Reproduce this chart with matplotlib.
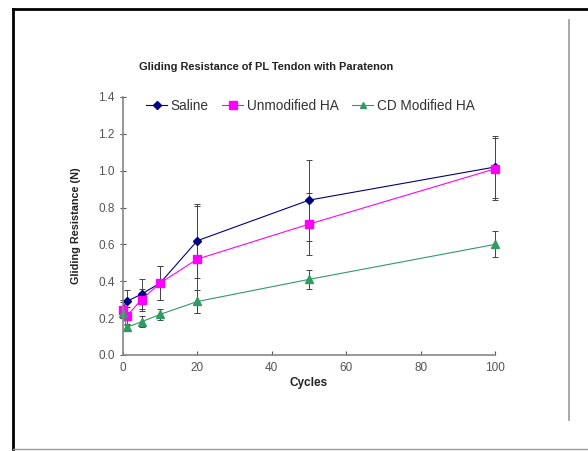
import matplotlib.pyplot as plt
from matplotlib.lines import Line2D

# данные
cycles = [0, 1, 5, 10, 20, 50, 100]
saline = [0.25, 0.29, 0.33, 0.39, 0.62, 0.84, 1.02]
saline_err = [0.05, 0.06, 0.08, 0.09, 0.20, 0.22, 0.17]
unmod_ha = [0.245, 0.21, 0.30, 0.39, 0.52, 0.71, 1.01]
unmod_err = [0.04, 0.05, 0.06, 0.09, 0.29, 0.17, 0.17]
cd_ha = [0.23, 0.15, 0.18, 0.22, 0.29, 0.41, 0.60]
cd_err = [0.03, 0.02, 0.03, 0.03, 0.06, 0.05, 0.07]

y_ticks = [0.0, 0.2, 0.4, 0.6, 0.8, 1.0, 1.2, 1.4]
x_ticks = [0, 20, 40, 60, 80, 100]

plt.rcParams['font.family'] = ['Liberation Sans', 'DejaVu Sans']

fig = plt.figure(figsize=(5.88, 4.51), dpi=100)
ax = fig.add_axes([0.209, 0.213, 0.633, 0.572])

series = [
    ("Saline", saline, saline_err, '#000080', 'D', 4.5),
    ("Unmodified HA", unmod_ha, unmod_err, '#ff00ff', 's', 6),
    ("CD Modified HA", cd_ha, cd_err, '#339966', '^', 5.5),
]
handles = []
for name, vals, err, col, mk, ms in series:
    res = ax.errorbar(cycles, vals, yerr=err, color=col, marker=mk, markersize=ms,
                      linewidth=0.8, ecolor='#444444', elinewidth=0.7, capsize=2,
                      capthick=0.7)
    for art in res.get_children():
        art.set_clip_on(False)
    handles.append(Line2D([], [], color=col, marker=mk, markersize=ms - 0.5,
                          linewidth=0.8, label=name))

ax.set_xlim(0, 100)
ax.set_ylim(0, 1.4)
ax.set_xticks(x_ticks)
ax.set_yticks(y_ticks)
ax.set_yticklabels([f"{v:.1f}" for v in y_ticks])
ax.tick_params(axis='both', labelsize=8.5, colors='#555555', length=3)
ax.tick_params(axis='x', direction='in', pad=5)
ax.tick_params(axis='y', direction='inout', length=4, pad=4)
for s in ['top', 'right']:
    ax.spines[s].set_visible(False)
for s in ['left', 'bottom']:
    ax.spines[s].set_color('#888888')
    ax.spines[s].set_linewidth(1.2)

ax.set_xlabel("Cycles", fontsize=8.5, fontweight='bold', labelpad=2, color='#222222')
ax.set_ylabel("Gliding Resistance (N)", fontsize=7.8, fontweight='bold', labelpad=12,
              color='#222222')
fig.text(0.452, 0.851, "Gliding Resistance of PL Tendon with Paratenon",
         fontsize=7.9, fontweight='bold', ha='center', va='center', color='#222222')

leg = ax.legend(handles=handles, loc='upper left', bbox_to_anchor=(0.03, 1.04), ncol=3,
                frameon=False, fontsize=9.8, handlelength=1.5, columnspacing=1.0,
                handletextpad=0.3)
for t in leg.get_texts():
    t.set_color('#333333')

# рамка вокруг рисунка
W, H = 588, 451
fig.add_artist(Line2D([13 / W, 1], [1 - 9 / H, 1 - 9 / H], color='black', lw=2))
fig.add_artist(Line2D([13 / W, 13 / W], [1 - 9 / H, 1 - 449 / H], color='black', lw=2))
fig.add_artist(Line2D([13 / W, 1], [1 - 449 / H, 1 - 449 / H], color='#999999', lw=1))
fig.add_artist(Line2D([569 / W, 569 / W], [1 - 20 / H, 1 - 420 / H], color='#999999', lw=1.2))

fig.savefig("out.png", dpi=100)
